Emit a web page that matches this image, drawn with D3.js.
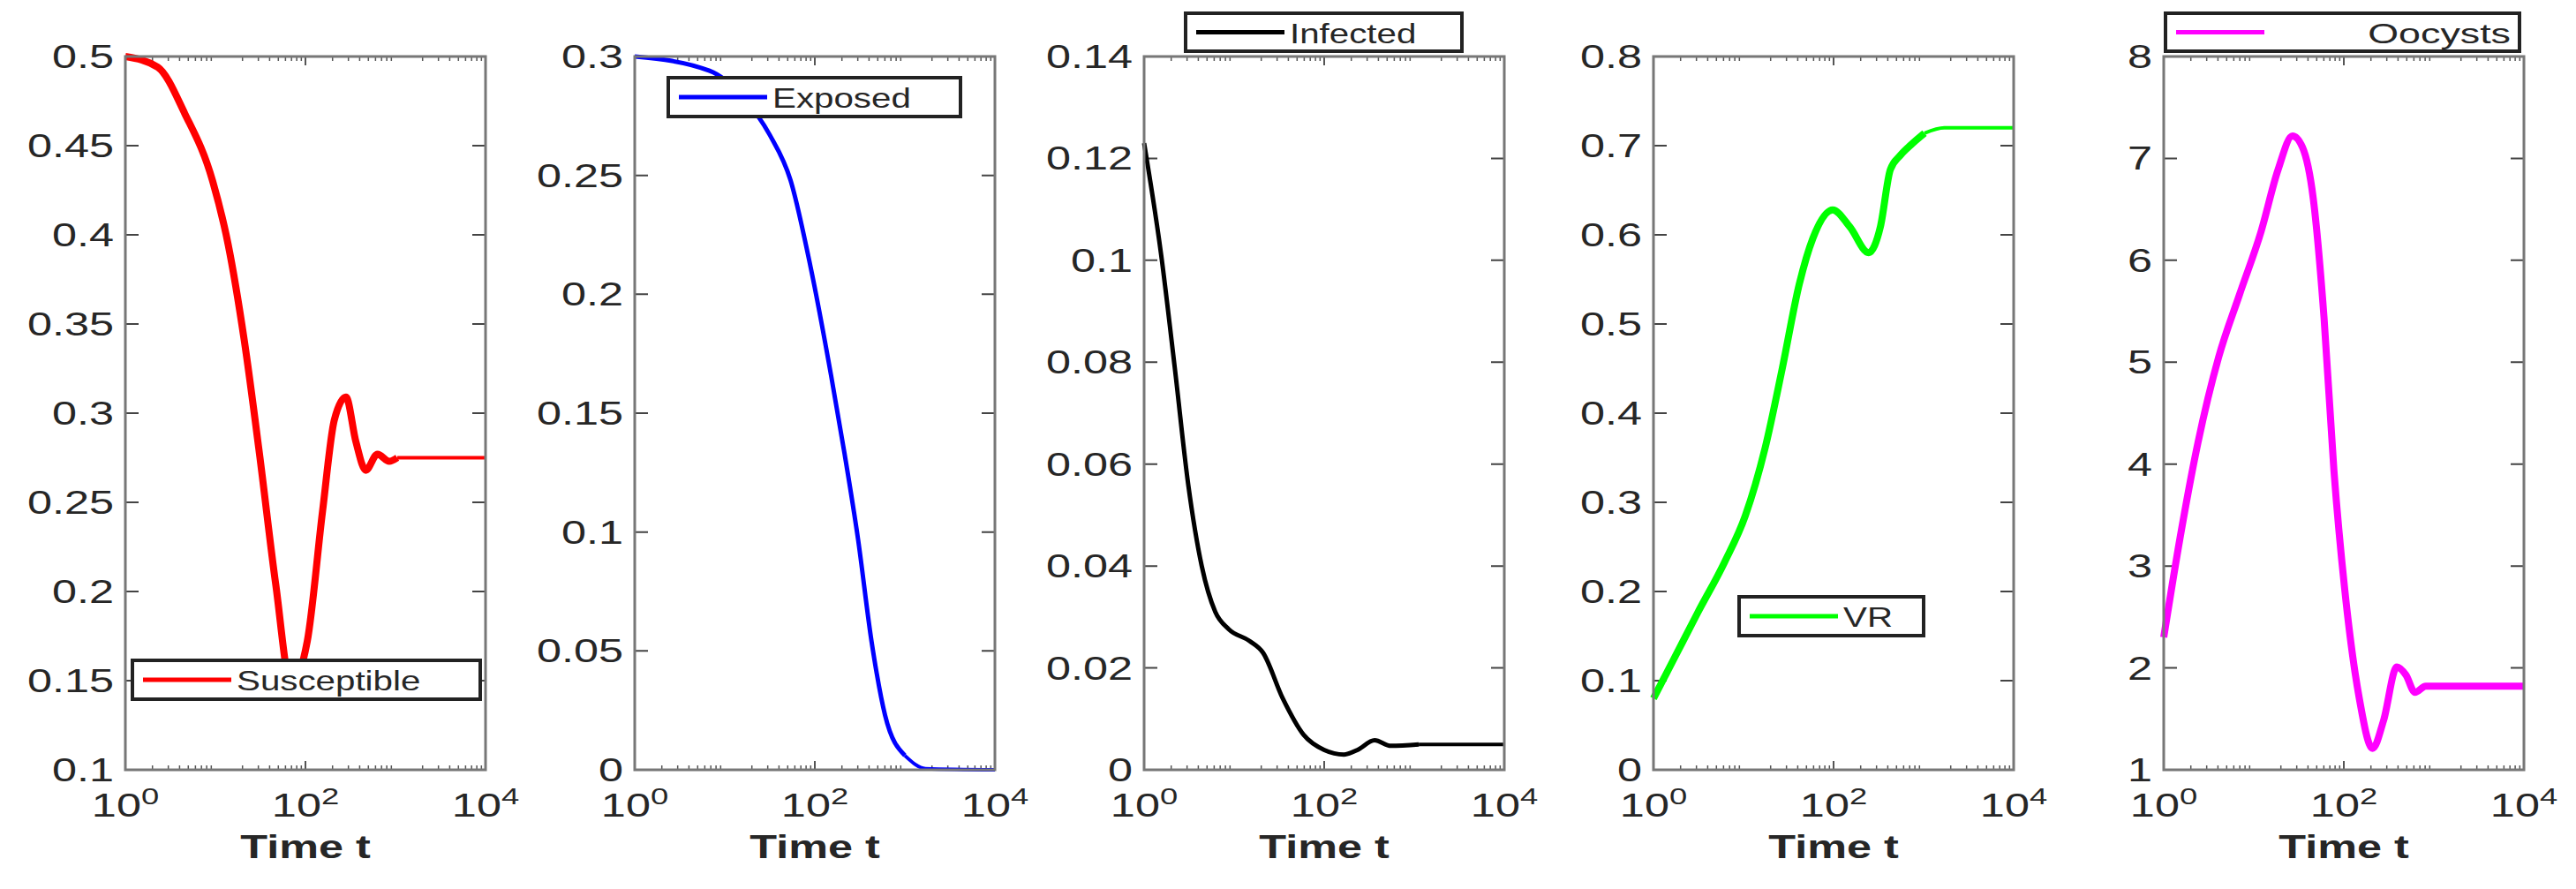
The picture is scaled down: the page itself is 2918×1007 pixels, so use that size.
<!DOCTYPE html>
<html><head><meta charset="utf-8">
<script src="https://cdn.jsdelivr.net/npm/d3@7"></script>
<style>body{margin:0;background:#fff}text{font-family:"Liberation Sans",Arial,sans-serif;fill:#262626}</style>
</head><body><svg id="c" width="2918" height="1007"></svg>
<script>
// log10(t) sample positions and values
const susLogT=[0,0.36,0.66,0.97,1.14,1.32,1.49,1.67,1.84,2.02,2.19,2.32,2.45,2.56,2.67,2.80,2.93,3.02,4];
const susVal=[0.5,0.494,0.468,0.430,0.395,0.341,0.277,0.204,0.148,0.172,0.245,0.296,0.309,0.284,0.268,0.277,0.273,0.275,0.275];
const expLogT=[0,0.83,1.2,1.5,1.73,1.95,2.18,2.33,2.48,2.63,2.78,3.0,3.23,4];
const expVal=[0.3,0.294,0.283,0.267,0.248,0.212,0.166,0.133,0.097,0.054,0.023,0.006,0.0005,0];
const infLogT=[0,0.19,0.34,0.49,0.64,0.79,0.94,1.17,1.32,1.54,1.77,2.0,2.22,2.37,2.56,2.74,3.05,4];
const infVal=[0.123,0.101,0.079,0.056,0.040,0.031,0.0276,0.0253,0.023,0.014,0.0069,0.0039,0.003,0.0039,0.0058,0.0047,0.005,0.005];
const vrLogT=[0,0.23,0.49,0.79,1.02,1.24,1.43,1.62,1.77,1.99,2.18,2.39,2.52,2.63,2.74,2.86,3.01,3.23,4];
const vrVal=[0.08,0.125,0.176,0.233,0.285,0.361,0.450,0.545,0.596,0.628,0.609,0.580,0.609,0.673,0.689,0.701,0.714,0.720,0.720];
const ooLogT=[0,0.18,0.38,0.61,0.84,1.08,1.27,1.43,1.54,1.66,1.78,1.89,2.01,2.17,2.32,2.44,2.59,2.69,2.79,2.91,4];
const ooVal=[2.3,3.27,4.21,5.05,5.66,6.28,6.89,7.22,7.11,6.61,5.44,3.94,2.77,1.71,1.21,1.48,2.01,1.93,1.76,1.82,1.82]; // x 1e7

const xTickLabels=["0","2","4"];
const panels=[
 {name:"Susceptible",lt:susLogT,v:susVal,color:"#ff0000",w:8,dom:[0.1,0.5],ticks:[0.1,0.15,0.2,0.25,0.3,0.35,0.4,0.45,0.5],leg:[8,748,394,44],legAlign:"left"},
 {name:"Exposed",lt:expLogT,v:expVal,color:"#0000ff",w:5,dom:[0,0.3],ticks:[0,0.05,0.1,0.15,0.2,0.25,0.3],leg:[38,88,331,44],legAlign:"left"},
 {name:"Infected",lt:infLogT,v:infVal,color:"#000000",w:5,dom:[0,0.14],ticks:[0,0.02,0.04,0.06,0.08,0.1,0.12,0.14],leg:[47,15,313,43],legAlign:"left"},
 {name:"VR",lt:vrLogT,v:vrVal,color:"#00ff00",w:8,dom:[0,0.8],ticks:[0,0.1,0.2,0.3,0.4,0.5,0.6,0.7,0.8],leg:[97,676,209,44],legAlign:"left"},
 {name:"Oocysts",lt:ooLogT,v:ooVal,color:"#ff00ff",w:8,dom:[1,8],ticks:[1,2,3,4,5,6,7,8],leg:[2,15,401,43],legAlign:"right",exp:true}
];
const svg=d3.select("#c");
const lefts=[142,719,1296,1873,2451], W=408, topY=64, botY=872, SX=1.4;
panels.forEach((p,i)=>{
  const g=svg.append("g").attr("transform",`translate(${lefts[i]},0)`);
  const x=d3.scaleLog().domain([1,1e4]).range([0,W]);
  const y=d3.scaleLinear().domain(p.dom).range([botY,topY]);
  const minors=[];for(let k=0;k<4;k++)for(let m=2;m<=9;m++)minors.push(m*Math.pow(10,k));
  g.selectAll(".mn").data(minors).join("path").attr("d",d=>`M${x(d)},${botY}v-5M${x(d)},${topY}v5`).attr("stroke","#555").attr("stroke-width",1.5);
  g.selectAll(".mj").data([100]).join("path").attr("d",d=>`M${x(d)},${botY}v-10M${x(d)},${topY}v10`).attr("stroke","#555").attr("stroke-width",2);
  g.selectAll(".yt").data(p.ticks).join("path").attr("d",d=>`M0,${y(d)}h15M${W},${y(d)}h-15`).attr("stroke","#444").attr("stroke-width",2);
  g.selectAll(".yl").data(p.ticks).join("text").attr("transform",d=>`translate(-13,${y(d)+13}) scale(${SX},1)`).attr("text-anchor","end").attr("font-size",36).text(d=>String(d));
  xTickLabels.forEach(k=>{
    const t=g.append("text").attr("transform",`translate(${x(Math.pow(10,+k))},${925}) scale(${SX},1)`).attr("text-anchor","middle").attr("font-size",36);
    t.append("tspan").text("10");
    t.append("tspan").attr("font-size",26).attr("dy",-14).text(k);
  });
  g.append("text").attr("transform",`translate(${W/2},972) scale(${SX},1)`).attr("text-anchor","middle").attr("font-size",36).attr("font-weight","bold").text("Time t");
  if(p.exp){
    const t=g.append("text").attr("transform",`translate(6,57) scale(${SX},1)`).attr("font-size",32);
    t.append("tspan").text("×10");t.append("tspan").attr("font-size",24).attr("dy",-14).text("7");
  }
  const pts=p.lt.map((l,j)=>[Math.pow(10,l),p.v[j]]);
  const line=d3.line().x(d=>x(d[0])).y(d=>y(d[1])).curve(d3.curveMonotoneX);
  const split=pts.findIndex(d=>d[0]>=1000);
  g.append("path").attr("d",line(pts.slice(0,split+1))).attr("fill","none").attr("stroke",p.color).attr("stroke-width",p.w).attr("stroke-linejoin","round");
  g.append("path").attr("d",line(pts.slice(split))).attr("fill","none").attr("stroke",p.color).attr("stroke-width",4);
  g.append("rect").attr("x",0).attr("y",topY).attr("width",W).attr("height",botY-topY).attr("fill","none").attr("stroke","#777").attr("stroke-width",3);
  const [lx,ly,lw,lh]=p.leg;
  const lg=g.append("g").attr("transform",`translate(${lx},${ly})`);
  lg.append("rect").attr("width",lw).attr("height",lh).attr("fill","#fff").attr("stroke","#222").attr("stroke-width",4);
  lg.append("path").attr("d",`M12,${lh/2}h100`).attr("stroke",p.color).attr("stroke-width",5);
  if(p.legAlign==="right")
    lg.append("text").attr("transform",`translate(${lw-10},${lh/2+12}) scale(${SX},1)`).attr("text-anchor","end").attr("font-size",32).text(p.name);
  else
    lg.append("text").attr("transform",`translate(118,${lh/2+12}) scale(${SX*0.9},1)`).attr("font-size",32).text(p.name);
});
</script></body></html>
